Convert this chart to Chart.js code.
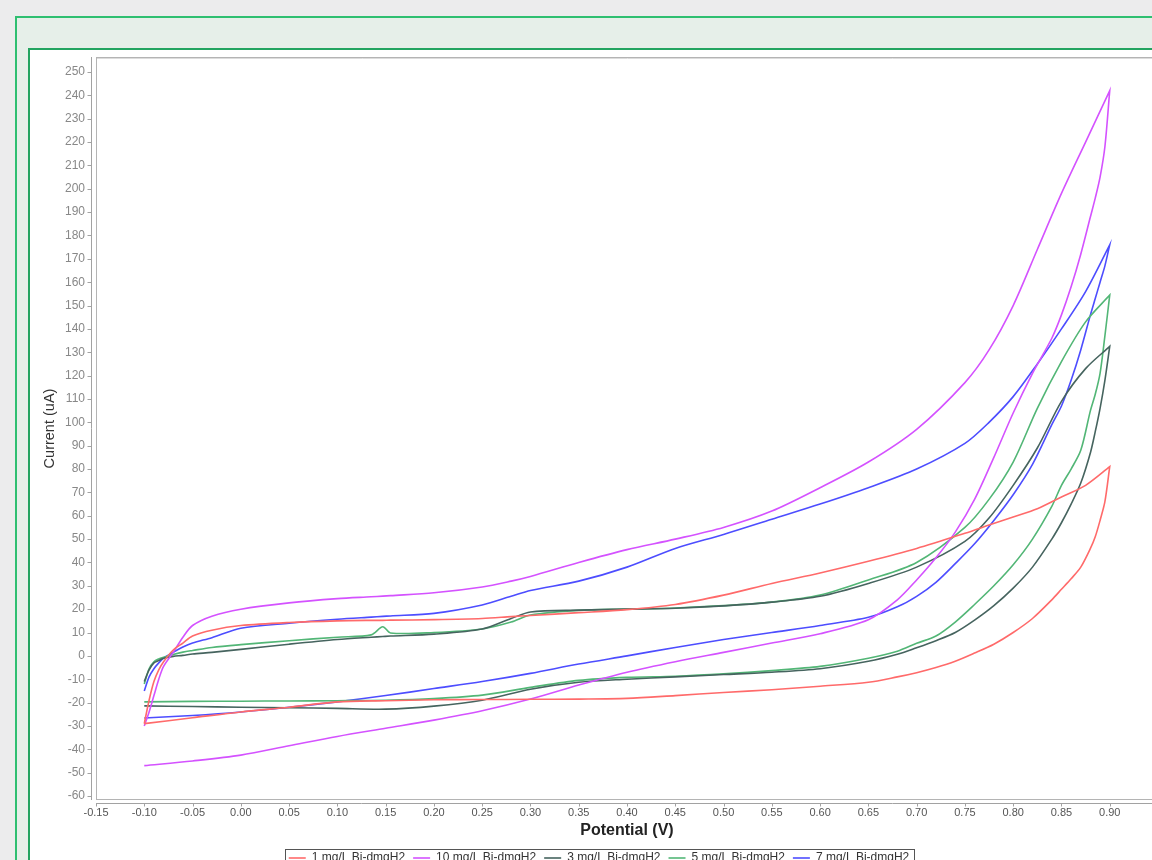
<!DOCTYPE html>
<html>
<head>
<meta charset="utf-8">
<title>Cyclic voltammetry - Bi-dmgH2</title>
<script src="https://cdn.jsdelivr.net/npm/chart.js@4.4.1/dist/chart.umd.min.js"></script>
<style>
  html, body { margin: 0; padding: 0; }
  body { width: 1152px; height: 860px; overflow: hidden; background: #ececed; position: relative; }
  #outer { position: absolute; left: 15px; top: 16px; width: 1200px; height: 900px; border: 2px solid #2fbf71; background: #e6efe9; }
  #inner { position: absolute; left: 11px; top: 30px; width: 1200px; height: 900px; border: 2px solid #23a460; background: #fff; }
  #box { position: absolute; left: 0; top: 0; width: 1128px; height: 824px; }
</style>
</head>
<body>
<div id="outer"><div id="inner"><div id="box"><canvas id="cvChart"></canvas></div></div></div>
<script>
// potentials (V) of the forward (anodic) and reverse sweep
const potentialFwd = [-0.1, -0.095, -0.09, -0.085, -0.08, -0.07, -0.06, -0.05, -0.03, 0, 0.05, 0.1, 0.135, 0.147, 0.155,
  0.2, 0.25, 0.28, 0.3, 0.35, 0.4, 0.45, 0.5, 0.55, 0.6, 0.65, 0.7, 0.75, 0.775, 0.8, 0.825, 0.85, 0.875, 0.9];
const potentialRev = [0.9, 0.895, 0.89, 0.885, 0.88, 0.87, 0.86, 0.85, 0.84, 0.82, 0.8, 0.78, 0.76, 0.74, 0.72, 0.7,
  0.68, 0.65, 0.6, 0.55, 0.5, 0.45, 0.4, 0.35, 0.3, 0.25, 0.2, 0.15, 0.1, 0.05, 0, -0.05, -0.1];

// currents (uA)
const fwd1 = [-29, -19, -11, -6, -2.5, 2.5, 5.5, 8.5, 11, 13, 14.3, 15, 15.2, 15.2, 15.3,
  15.5, 16, 16.8, 17.3, 18.5, 19.8, 22, 26, 31, 35.5, 40.5, 46, 52.5, 56, 59.5, 63, 68, 73, 81];
const rev1 = [81, 66, 58, 51, 46, 38, 33, 28.5, 24, 16, 10, 5, 1.2, -2.3, -5, -7.2,
  -9, -11.3, -13, -14.5, -15.7, -17, -18.2, -18.5, -18.6, -18.7, -18.8, -19.2, -19.7, -22, -24, -26.5, -29];

const fwd10 = [-30, -24, -17, -10, -4.5, 1.5, 8, 13, 17, 20, 22.7, 24.5, 25.3, 25.6, 25.8,
  27, 29.5, 32, 34, 40, 45.5, 50, 55, 62, 72, 83, 97, 117, 131, 150, 174, 198, 220, 242];
const rev10 = [242, 218, 205, 196, 188, 172, 158, 146, 136, 121, 104, 85, 67, 53, 42, 32.5,
  24, 15.5, 9.5, 5.5, 1.5, -2.5, -7, -12.5, -18.5, -23.5, -27.5, -31, -34.5, -38.5, -42.5, -45, -47];

const fwd3 = [-11, -6, -3, -2, -1, -0.2, 0.2, 0.8, 1.5, 2.8, 5, 7, 8, 8.3, 8.5,
  9.3, 11.5, 16, 18.8, 19.6, 20, 20.4, 21.4, 23, 25.5, 31, 38, 49, 59, 73, 89, 109, 123, 132.5];
const rev3 = [132.5, 118, 106, 96, 87, 74, 65, 57, 50, 38, 29, 21.5, 15.3, 10, 6.5, 3.5,
  0.7, -2.3, -5.5, -7, -8, -9, -10, -11.3, -14.3, -19, -21.5, -22.8, -22.5, -22.2, -22, -21.7, -21.4];

const fwd5 = [-12, -5.5, -2.5, -1.3, -0.6, 0.6, 1.6, 2.3, 3.6, 4.8, 6.5, 8, 9, 12.5, 9.8,
  10, 11.5, 14.5, 17.5, 19.5, 20, 20.5, 21.5, 23, 26, 32.5, 40, 55, 67, 83, 106, 126, 143, 154.5];
const rev5 = [154.5, 137, 121, 112, 105, 88, 80, 73, 64, 50, 39, 30, 22, 14.5, 8.5, 5.4,
  2, -1, -4.5, -6.3, -7.7, -8.7, -9.2, -10.5, -13.5, -16.8, -18.3, -19, -19.2, -19.3, -19.4, -19.5, -19.7];

const fwd7 = [-15, -9, -5.5, -3, -1, 1.5, 3.8, 5.5, 7.8, 11.8, 14, 15.7, 16.6, 16.9, 17.1,
  18.2, 21.8, 25.5, 28, 32, 38, 46, 52, 58.5, 65, 72, 80, 91, 100, 111, 125, 140, 156, 176];
const rev7 = [176, 167, 160, 153, 146, 131, 118, 107, 99, 82, 69, 58, 48, 39.5, 31.5, 25.5,
  21, 16.5, 13, 10, 7, 3.6, 0, -3.5, -7.5, -11, -14, -17, -19.7, -22, -24, -25.5, -26.6];

const seriesNames = ['1 mg/L Bi-dmgH2', '10 mg/L Bi-dmgH2', '3 mg/L Bi-dmgH2', '5 mg/L Bi-dmgH2', '7 mg/L Bi-dmgH2'];
const seriesColors = ['#ff6a6a', '#d452ff', '#46645f', '#52b676', '#4d4dff'];
const forward = [fwd1, fwd10, fwd3, fwd5, fwd7];
const reverse = [rev1, rev10, rev3, rev5, rev7];

const xTicks = [-0.15, -0.10, -0.05, 0.00, 0.05, 0.10, 0.15, 0.20, 0.25, 0.30, 0.35, 0.40, 0.45,
  0.50, 0.55, 0.60, 0.65, 0.70, 0.75, 0.80, 0.85, 0.90];
const yTicks = [-60, -50, -40, -30, -20, -10, 0, 10, 20, 30, 40, 50, 60, 70, 80, 90, 100, 110, 120,
  130, 140, 150, 160, 170, 180, 190, 200, 210, 220, 230, 240, 250];

Chart.defaults.font.family = '"Liberation Sans", Arial, sans-serif';

// axis lines sit a few pixels outside the plot frame, like the original
const axisFrame = {
  id: 'axisFrame',
  afterDraw(chart) {
    const { ctx, chartArea: a, scales, legend } = chart;
    const xs = scales.x, ys = scales.y;
    ctx.save();
    ctx.lineWidth = 1;
    ctx.strokeStyle = '#b4b4b4';
    ctx.strokeRect(a.left + 0.5, a.top + 0.5, a.right - a.left, a.bottom - a.top - 1);
    ctx.strokeStyle = '#dcdcdc';
    ctx.beginPath();
    ctx.moveTo(a.left + 1, a.top + 1.5); ctx.lineTo(a.right, a.top + 1.5);
    ctx.stroke();

    const axX = a.left - 4.5, axY = a.bottom + 3.5;
    ctx.strokeStyle = '#a2a2a2';
    ctx.beginPath();
    ctx.moveTo(axX, a.top); ctx.lineTo(axX, a.bottom);
    ctx.moveTo(a.left, axY); ctx.lineTo(a.right, axY);
    ys.ticks.forEach(t => {
      const py = Math.round(ys.getPixelForValue(t.value)) + 0.5;
      ctx.moveTo(axX - 4, py); ctx.lineTo(axX, py);
    });
    xs.ticks.forEach(t => {
      const px = Math.round(xs.getPixelForValue(t.value)) + 0.5;
      ctx.moveTo(px, axY); ctx.lineTo(px, axY + 3);
    });
    ctx.stroke();

    // frame round the legend
    const boxes = legend.legendHitBoxes || [];
    if (boxes.length) {
      const l = Math.min(...boxes.map(b => b.left)) - 4;
      const r = Math.max(...boxes.map(b => b.left + b.width)) + 4;
      const t = boxes[0].top - 3;
      ctx.strokeStyle = '#555';
      ctx.strokeRect(Math.round(l) + 0.5, Math.round(t) + 0.5, Math.round(r - l), 40);
    }
    ctx.restore();
  }
};

const datasets = seriesNames.map((name, i) => ({
  label: name,
  data: potentialFwd.map((v, k) => ({ x: v, y: forward[i][k] }))
    .concat(potentialRev.map((v, k) => ({ x: v, y: reverse[i][k] }))),
  borderColor: seriesColors[i],
  backgroundColor: seriesColors[i],
  borderWidth: 1.6,
  showLine: true,
  pointRadius: 0,
  tension: 0.3
}));

new Chart(document.getElementById('cvChart'), {
  type: 'scatter',
  data: { datasets },
  options: {
    responsive: true,
    maintainAspectRatio: false,
    animation: false,
    layout: { padding: { top: 7, left: 10, right: 0, bottom: 0 } },
    plugins: {
      tooltip: { enabled: false },
      legend: {
        position: 'bottom',
        labels: {
          usePointStyle: true,
          pointStyle: 'line',
          pointStyleWidth: 17,
          font: { size: 12 },
          color: '#333',
          padding: 8
        }
      }
    },
    scales: {
      x: {
        type: 'linear',
        min: -0.15,
        max: 0.95,
        afterBuildTicks: s => { s.ticks = xTicks.map(v => ({ value: v })); },
        afterFit: s => { s.height = 44; s.paddingLeft = 0; s.paddingRight = 0; },
        ticks: {
          callback: v => Number(v).toFixed(2),
          color: '#555',
          font: { size: 11 },
          padding: 6,
          maxRotation: 0,
          autoSkip: false
        },
        grid: { display: false, drawTicks: false },
        border: { display: false },
        title: {
          display: true,
          text: 'Potential (V)',
          color: '#222',
          font: { size: 16, weight: 'bold' },
          padding: { top: 0, bottom: 3.4 }
        }
      },
      y: {
        type: 'linear',
        min: -61.71,
        max: 256.42,
        afterBuildTicks: s => { s.ticks = yTicks.map(v => ({ value: v })); },
        afterFit: s => { s.width = 56; s.paddingTop = 0; s.paddingBottom = 0; },
        ticks: {
          color: '#888',
          font: { size: 12 },
          padding: 11,
          autoSkip: false
        },
        grid: { display: false, drawTicks: false },
        border: { display: false },
        title: {
          display: true,
          text: 'Current (uA)',
          color: '#333',
          font: { size: 14.5 },
          padding: { top: 1.1, bottom: 0 }
        }
      }
    }
  },
  plugins: [axisFrame]
});
</script>
</body>
</html>
